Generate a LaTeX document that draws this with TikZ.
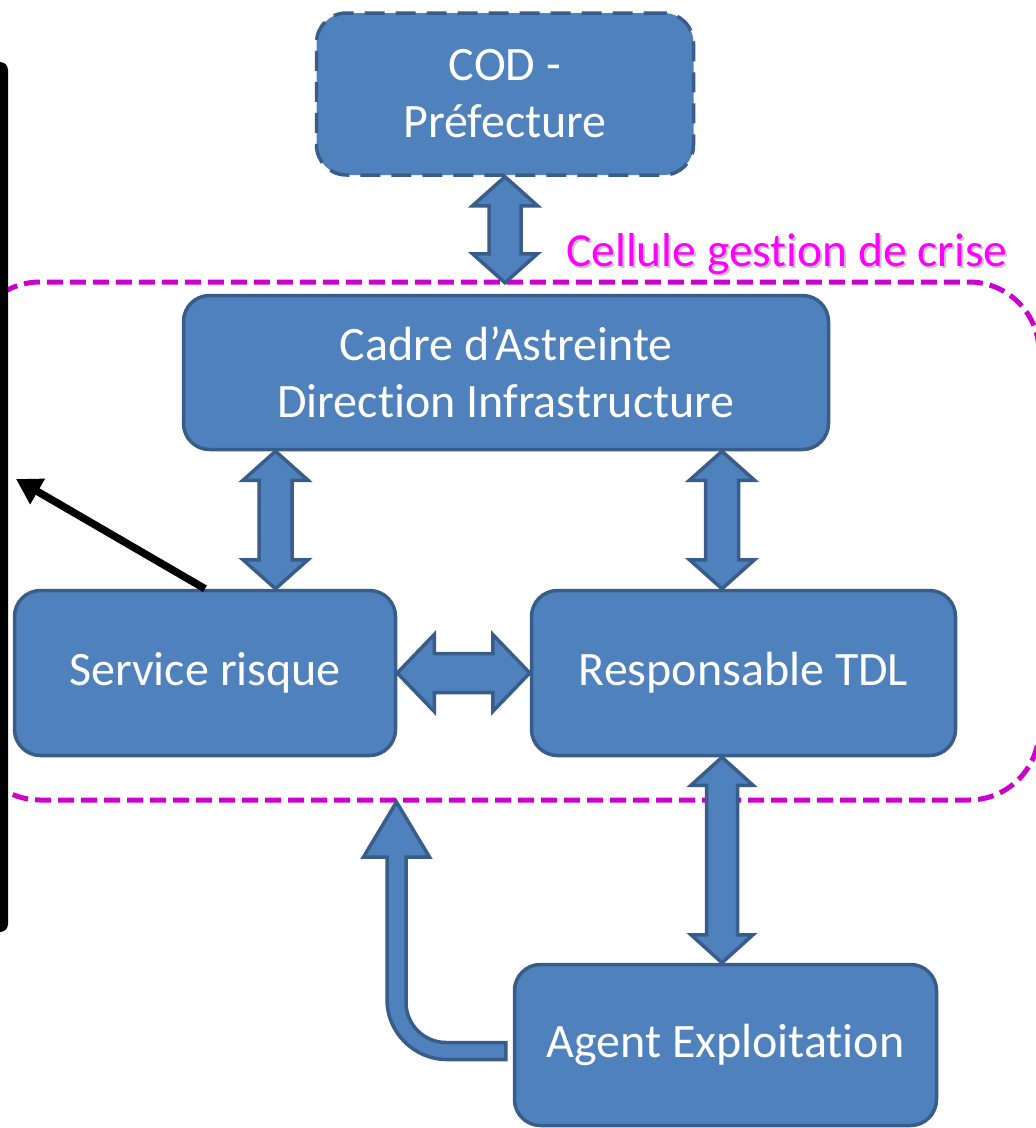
\documentclass[tikz,border=0pt]{standalone}
\usepackage{fontspec}
\setmainfont{Carlito}[Ligatures=NoCommon]
\usetikzlibrary{arrows.meta,calc}
\definecolor{bfill}{HTML}{4F81BD}
\definecolor{bline}{HTML}{385D8A}
\definecolor{magline}{HTML}{CC00CC}
\definecolor{magtext}{HTML}{FF00FF}
% vertical double block arrow: #1 top point, #2 bottom point, #3 head half width, #4 shaft half width, #5 head length
\newcommand\vdarrow[5]{%
  \draw[barrow] let \p1=(#1), \p2=(#2) in
  (\x1,\y1) -- (\x1+#3pt,\y1-#5pt) -- (\x1+#4pt,\y1-#5pt) -- (\x1+#4pt,\y2+#5pt)
  -- (\x1+#3pt,\y2+#5pt) -- (\x1,\y2) -- (\x1-#3pt,\y2+#5pt) -- (\x1-#4pt,\y2+#5pt)
  -- (\x1-#4pt,\y1-#5pt) -- (\x1-#3pt,\y1-#5pt) -- cycle;}
% horizontal double block arrow: #1 left point, #2 right point
\newcommand\hdarrow[5]{%
  \draw[barrow] let \p1=(#1), \p2=(#2) in
  (\x1,\y1) -- (\x1+#5pt,\y1+#3pt) -- (\x1+#5pt,\y1+#4pt) -- (\x2-#5pt,\y1+#4pt)
  -- (\x2-#5pt,\y1+#3pt) -- (\x2,\y1) -- (\x2-#5pt,\y1-#3pt) -- (\x2-#5pt,\y1-#4pt)
  -- (\x1+#5pt,\y1-#4pt) -- (\x1+#5pt,\y1-#3pt) -- cycle;}
\begin{document}
\begin{tikzpicture}[x=1pt,y=-1pt,
  box/.style={draw=bline, fill=bfill, line width=3.5pt, rounded corners=26pt,
    text=white, align=center, font=\fontsize{48}{57}\selectfont, inner sep=0pt},
  barrow/.style={draw=bline, fill=bfill, line width=3.5pt, line join=miter},
  cellule/.style={draw=magline, line width=5pt, dash pattern=on 16pt off 7pt, rounded corners=70pt},
  lbl/.style={anchor=base west, font=\fontsize{47.5}{56}\selectfont, inner sep=0pt}]
\useasboundingbox (0,0) rectangle (1036,1128);
\clip (0,0) rectangle (1036,1128);
\fill[white] (0,0) rectangle (1036,1128);

% crisis cell boundary
\draw[cellule] (-30,282) rectangle (1039,800);
\node[lbl, text=black!22] (lblshadow) at (568,268) {Cellule gestion de crise};
\node[lbl, text=magtext] (lbl) at (566,266) {Cellule gestion de crise};

% left black bar
\fill[black, rounded corners=8pt] (-30,62) rectangle (8,932);

% boxes
\node[box, dash pattern=on 20pt off 11pt, rounded corners=30pt, minimum width=377pt, minimum height=162pt] (cod) at (505,94) {COD -\\Préfecture};
\node[box, minimum width=645pt, minimum height=154pt] (cadre) at (506,372.5) {Cadre d’Astreinte\\Direction Infrastructure};
\node[box, minimum width=381pt, minimum height=165pt] (serv) at (205,673) {\raisebox{-3pt}{Service risque}};
\node[box, minimum width=424pt, minimum height=165pt] (resp) at (743.5,673) {\raisebox{-3pt}{Responsable TDL}};
\node[box, minimum width=422pt, minimum height=161pt] (agent) at (725.5,1045) {\raisebox{-3pt}{Agent Exploitation}};

% helper coordinates
\coordinate (xa) at (275.5,0);
\coordinate (xb) at (722,0);
\coordinate (celltop) at ($(cadre.north)+(0,-11)$);
\coordinate (bend) at ($(agent.west)+(-7,6)$);
\coordinate (btip) at (396.5,802);
\coordinate (bartip) at (16,479);

% block arrows
\vdarrow{cod.south}{celltop}{32.5}{16}{29}
\vdarrow{cadre.south -| xa}{serv.north -| xa}{32.5}{16.5}{29}
\vdarrow{cadre.south -| xb}{resp.north -| xb}{32.5}{16.5}{29}
\vdarrow{resp.south -| xb}{agent.north -| xb}{31}{15.5}{28}
\hdarrow{serv.east}{resp.west}{38.5}{19.5}{37}

% bent arrow from agent up to the cell
\draw[barrow] let \p1=(bend), \p2=(btip) in
  (\x1,\y1+8.5pt) -- (\x2+49.5pt,\y1+8.5pt)
  .. controls (\x2+27.5pt,\y1+8.5pt) and (\x2+9.5pt,\y1+26.5pt) .. (\x2+9.5pt,\y1+48.5pt)
  -- (\x2+9.5pt,\y2-55pt) -- (\x2+33pt,\y2-55pt) -- (\x2,\y2) -- (\x2-33pt,\y2-55pt)
  -- (\x2-9.5pt,\y2-55pt) -- (\x2-9.5pt,\y1+51.5pt)
  .. controls (\x2-9.5pt,\y1+18.5pt) and (\x2+17.5pt,\y1-8.5pt) .. (\x2+50.5pt,\y1-8.5pt)
  -- (\x1,\y1-8.5pt) -- cycle;

% black arrow
\draw[black, line width=7.5pt, -{Triangle[length=25pt,width=28pt]}] (serv.north) -- (bartip);
\end{tikzpicture}
\end{document}
